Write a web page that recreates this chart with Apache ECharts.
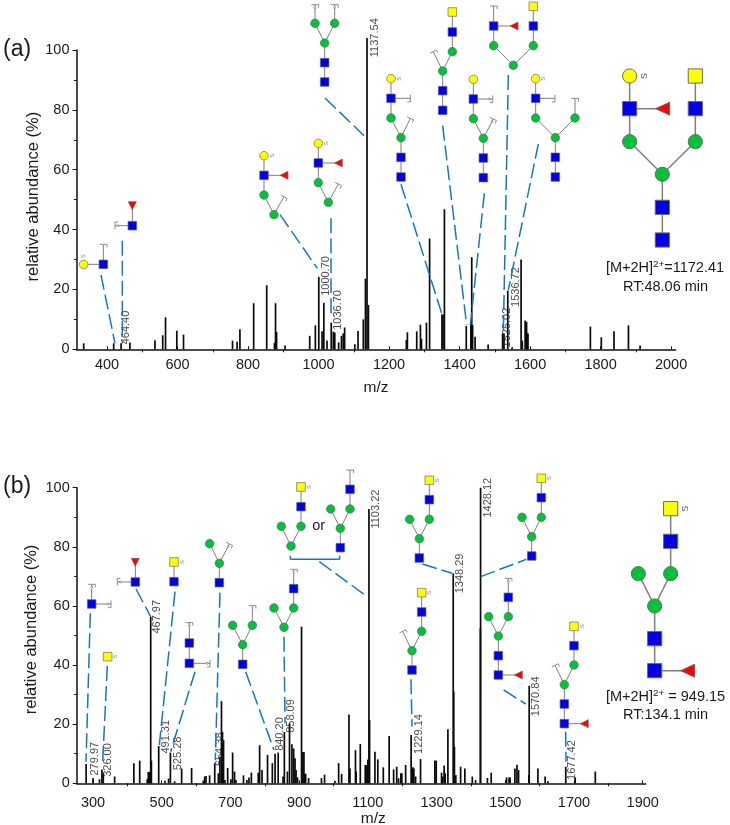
<!DOCTYPE html>
<html><head><meta charset="utf-8">
<script src="https://cdn.jsdelivr.net/npm/echarts@6/dist/echarts.min.js"></script>
<style>html,body{margin:0;padding:0;background:#fff}#c{width:730px;height:825px}</style>
</head><body><div id="c"></div>
<script>
// ---------- chart values ----------
const peaksA = [[334,2],[419,2],[440,2],[465,2.3],[536,3],[558,4.7],[566,10.7],[598,6.2],[617,4.9],[756,2.9],[769,2.5],[777,6.7],[816,15.4],[853,21.4],[875,2.2],[878,15.4],[881,5.8],[905,1.3],[975,4.5],[991,8],[1000.7,24.2],[1010,6],[1015,15.5],[1024,2.9],[1036,8.9],[1042,5.9],[1046,5.6],[1057,2.3],[1065,4.5],[1070,5.3],[1074,7.3],[1103,1.7],[1112,6.1],[1127,10],[1133,23.6],[1137.5,104],[1141.5,14.8],[1249,3.1],[1252,5.7],[1278.5,6],[1289,8.2],[1292,3.5],[1306,8.9],[1315,37],[1350,11.6],[1353,11.6],[1357,46.8],[1419,7.8],[1432,8.1],[1434.5,30.8],[1437,8.1],[1444,4.2],[1481,1.6],[1522,5.3],[1526,5.3],[1536.7,19.6],[1549,0.7],[1574.5,30],[1578,2.9],[1586,9.6],[1590,9.2],[1592,5.3],[1594,5.3],[1771,7.6],[1802,4],[1838,6],[1879,8],[1912,1.3]];
const peaksB = [[280,6.5],[300,1.8],[319,1.4],[326,4.7],[330,3.4],[363,2.3],[419,6.8],[436,7.7],[458,1.4],[461,3.8],[465,3.9],[468,56.4],[470,7.7],[491.3,12.6],[509.5,0.9],[520,1.6],[525.3,10.4],[537.6,0.7],[558,5],[587,5.2],[621,0.9],[625,2.3],[629,2.5],[639.5,2.7],[654.4,6.8],[665,3.4],[669.5,9],[674,27.8],[677,17.4],[680,14.6],[684,1.1],[692,5.2],[701.5,1.4],[706.4,10.4],[712,4],[716,1.1],[738,2.7],[748,1.1],[754,2],[761,3.6],[781,3.6],[785,12.9],[792,4.5],[808,9.6],[822,6.8],[830,10],[839,10.4],[853,2.3],[857,17.4],[866,4],[872,20.3],[879,13.2],[884,11.8],[888,8.5],[891,4.5],[895.5,2],[907,53],[911,10.6],[914,10.6],[917,3.2],[919,3.2],[927.5,1.8],[965,1.8],[974,2.9],[1004,0.9],[1015,6.8],[1023.6,3.2],[1045,23.3],[1048,5],[1064,11.2],[1066,4],[1078,13.3],[1092.4,6.2],[1095,6.2],[1100,8],[1103.2,92.8],[1105,21.4],[1120.6,10.7],[1129,8.1],[1145,5.4],[1162,16],[1175,4.7],[1184,5.6],[1189.4,1.7],[1196,3.4],[1199,3.4],[1210,6.2],[1226,16.3],[1231,5.4],[1234,5],[1239,2.3],[1253.4,8.2],[1295,7.7],[1299,7.7],[1314.5,3.6],[1318,2.3],[1322,6],[1325,3.4],[1333,18.3],[1348.5,71],[1350,31],[1352,12.4],[1356,2.8],[1370,5.6],[1382.4,5],[1404,2.3],[1413.5,1.1],[1427.5,52.4],[1428.1,100],[1448,1.8],[1459,3.6],[1503.7,2],[1511,2],[1514,2],[1528,5],[1534,6.3],[1538.6,4.5],[1568.7,2.8],[1569.6,33],[1595,5],[1616,2.3],[1624,0.7],[1676,5.6],[1703.5,2],[1762,4]];
const labelledA = [[464.40,2.3],[1000.70,24.2],[1036.70,8.9],[1137.54,104],[1525.02,5.3],[1536.72,19.6]];
const labelledB = [[279.97,6.5],[326.00,4.7],[467.97,56.4],[491.31,12.6],[525.28,10.4],[654.38,6.8],[840.20,10],[858.09,17.4],[1103.22,92.8],[1229.14,16.3],[1348.29,71],[1428.12,100],[1570.84,33],[1677.42,5.6]];
const xMajorA = [400,600,800,1000,1200,1400,1600,1800,2000];
const xMinorA = [500,700,900,1100,1300,1500,1700,1900];
const xMajorB = [300,500,700,900,1100,1300,1500,1700,1900];
const xMinorB = [400,600,800,1000,1200,1400,1600,1800];
const yTicks = [0,20,40,60,80,100];

// ---------- layout (pixels) ----------
const offsetsA = [[-3.7,-14.9],[7.3,-0.9],[6.9,-12.7],[8,-0.3],[3.7,-5.9],[8,-3.6]];
const offsetsB = [[8.6,-5.4],[6.4,-9.4],[6.6,0.2],[7.3,-9.3],[7.3,0.8],[5.2,-13.9],[1.4,-19.7],[6.3,-15.9],[7,0.1],[7.1,-1.1],[7.1,0],[7.4,10],[6.4,10.6],[5.7,-6.7]];
const FONT = '"Liberation Sans", Arial, sans-serif';
const INK = '#1a1a1a';
// crop frames the sketches were measured in: 3 units = 1 px
const Q = {a1:[0,0],a2:[365,0],b1:[0,440],b2:[365,440]};
// Y yellow circle, X yellow square, B blue square, G green circle,
// L red triangle pointing left, D red triangle pointing down,
// C cleavage cap, O cleavage cap with dot. [type, x, y, parentIndex, tag]
const glycans = [
 {q:'a1',n:[['B',310,793],['Y',251,793,0,'u'],['C',310,733,0]]},
 {q:'a1',n:[['B',397,677],['D',397,617,0],['O',345,677,0]]},
 {q:'a1',n:[['Y',792,467,-1,'r'],['B',792,526,0],['L',852,526,1],['G',792,585,1],['G',822,644,3],['C',852,590,4]]},
 {q:'a1',n:[['Y',955,430,-1,'r'],['B',955,489,0],['L',1015,489,1],['G',955,548,1],['G',985,607,3],['C',1015,552,4]]},
 {q:'a1',n:[['B',974,246],['B',974,188,0],['G',974,129,1],['G',945,70,2],['G',1004,70,2],['O',945,14,3],['O',1004,14,4]]},
 {q:'a2',n:[['B',108,531],['B',108,472,0],['G',108,413,1],['G',78,354,2],['C',136,355,2],['B',78,295,3],['C',136,295,5],['Y',78,236,5,'r']]},
 {q:'a2',n:[['B',233,331],['B',233,272,0],['G',233,213,1],['C',205,155,2],['G',262,155,2],['B',262,96,4],['X',262,36,5]]},
 {q:'a2',n:[['G',445,196],['G',386,137,0],['G',505,137,0],['B',386,78,1],['B',505,78,2],['L',447,78,3],['C',386,18,3],['X',505,19,4]]},
 {q:'a2',n:[['B',355,533],['B',355,474,0],['G',355,415,1],['G',325,356,2],['O',385,357,2],['B',325,297,3],['O',383,297,5],['Y',325,238,5]]},
 {q:'a2',n:[['B',571,531],['B',571,472,0],['G',571,413,1],['G',512,354,2],['G',630,354,2],['C',630,295,4],['B',512,295,3],['C',570,295,6],['Y',512,236,6,'r']]},
 {q:'a2',big:1,n:[['B',892,720],['B',892,622,0],['G',892,523,1],['G',794,425,2],['G',991,425,2],['B',794,326,3],['B',991,326,4],['L',893,326,5],['Y',794,228,5,'S'],['X',991,228,6]]},
 {q:'b1',n:[['B',275,492],['O',275,433,0],['O',333,492,0]]},
 {q:'b1',n:[['X',323,650,-1,'r']]},
 {q:'b1',n:[['B',406,426],['D',406,367,0],['O',352,426,0]]},
 {q:'b1',n:[['B',522,425],['X',522,366,0,'r']]},
 {q:'b1',n:[['B',568,670],['B',568,609,0],['O',568,548,1],['O',630,670,0]]},
 {q:'b1',n:[['B',658,428],['G',658,370,0],['G',629,311,1],['O',688,312,1]]},
 {q:'b1',n:[['B',728,673],['G',728,614,0],['G',698,556,1],['G',757,556,1],['C',757,497,3]]},
 {q:'b1',n:[['G',852,562],['G',822,504,0],['G',881,504,0],['B',881,446,2],['O',881,388,3]]},
 {q:'b1',n:[['G',873,318],['G',844,259,0],['G',903,259,0],['B',903,200,2],['X',903,141,3,'r']]},
 {q:'b1',n:[['B',1021,323],['G',1021,265,0],['G',992,207,1],['G',1050,207,1],['B',1050,148,3],['C',1050,90,4]]},
 {q:'b2',n:[['B',163,354],['G',163,296,0],['G',134,238,1],['G',193,238,1],['B',193,179,3],['X',193,121,4,'r']]},
 {q:'b2',n:[['B',500,348],['G',500,290,0],['G',471,232,1],['G',529,232,1],['B',529,173,3],['X',529,115,4,'r']]},
 {q:'b2',n:[['B',141,690],['G',141,632,0],['C',113,574,1],['G',170,574,1],['B',170,516,3],['X',170,458,4,'r']]},
 {q:'b2',n:[['B',400,705],['L',460,705,0],['B',400,647,0],['G',400,588,2],['G',371,530,3],['G',430,530,3],['B',430,472,5],['O',430,415,6]]},
 {q:'b2',n:[['B',598,851],['L',658,851,0],['B',598,792,0],['G',598,734,2],['C',570,676,3],['G',627,675,3],['B',627,617,5],['X',627,559,6,'r']]},
 {q:'b2',big:1,n:[['B',869,692],['L',968,692,0],['B',869,596,0],['G',869,498,2],['G',820,401,3],['G',917,401,3],['B',917,304,5],['X',917,206,6,'S']]}
];
// dashed leaders: [frame, x1, y1, x2, y2]
const leaders = [
 ['a1',303,825,345,1030],['a1',367,722,367,1030],['a1',840,644,952,805],['a1',993,655,993,950],['a1',975,294,1092,407],
 ['a2',108,553,230,940],['a2',233,377,305,975],['a2',358,580,316,975],['a2',430,225,415,1000],['a2',520,432,430,870],
 ['b1',271,520,258,965],['b1',322,678,308,965],['b1',408,447,452,530],['b1',525,455,478,915],['b1',585,695,512,935],['b1',660,458,646,960],['b1',737,695,822,930],['b1',852,590,855,850],['b1',958,365,1095,465],
 ['b2',172,372,262,400],['b2',347,410,484,358],['b2',138,718,141,860],['b2',416,750,482,792],['b2',602,875,603,965]
];

const chart = echarts.init(document.getElementById('c'), null, {renderer:'canvas'});
const fmt2 = v => v.toFixed(2);
const gfx = [];
const LINK = '#7f7f7f', EDGE = '#6a6a6a';
function pt(q,x,y){return [Q[q][0]+x/3, Q[q][1]+y/3];}
function seg(a,b,w,c,z){gfx.push({type:'line',shape:{x1:a[0],y1:a[1],x2:b[0],y2:b[1]},style:{stroke:c,lineWidth:w},z:z,silent:true});}
function drawGlycan(g){
  const big=!!g.big, s=big?14.2:8.6, r=big?7.1:4.3, w=big?1.5:1, P=g.n.map(n=>pt(g.q,n[1],n[2]));
  g.n.forEach((n,i)=>{
    const par=n[3];
    if(par!==undefined&&par>=0) seg(P[par],P[i],w,LINK,20);
    if(n[0]==='C'||n[0]==='O'){
      const a=P[par],b=P[i],dx=b[0]-a[0],dy=b[1]-a[1],L=Math.hypot(dx,dy),ux=dx/L,uy=dy/L,nx=-uy,ny=ux,h=3.6;
      seg([b[0]-nx*h,b[1]-ny*h],[b[0]+nx*h,b[1]+ny*h],1,'#8a8a8a',20);
      seg([b[0]+nx*h,b[1]+ny*h],[b[0]+nx*h-ux*3,b[1]+ny*h-uy*3],1,'#8a8a8a',20);
      if(n[0]==='O') gfx.push({type:'circle',shape:{cx:b[0]-ux*3,cy:b[1]-uy*3,r:1},style:{fill:'#fff',stroke:'#777',lineWidth:.7},z:21,silent:true});
    }
  });
  g.n.forEach((n,i)=>{
    const [x,y]=P[i],t=n[0],lw=big?1:.7;
    if(t==='B'||t==='X') gfx.push({type:'rect',shape:{x:x-s/2,y:y-s/2,width:s,height:s},style:{fill:t==='B'?'#0000e6':'#ffff00',stroke:EDGE,lineWidth:lw},z:22,silent:true});
    if(t==='G'||t==='Y') gfx.push({type:'circle',shape:{cx:x,cy:y,r:r},style:{fill:t==='G'?'#00c13a':'#ffff00',stroke:EDGE,lineWidth:lw},z:22,silent:true});
    if(t==='L'){const a=big?7:4,b=big?6.5:4;gfx.push({type:'polygon',shape:{points:[[x-a,y],[x+a,y-b],[x+a,y+b]]},style:{fill:'#ff0000',stroke:EDGE,lineWidth:lw},z:22,silent:true});}
    if(t==='D'){gfx.push({type:'polygon',shape:{points:[[x,y+4],[x-4,y-4],[x+4,y-4]]},style:{fill:'#ff0000',stroke:EDGE,lineWidth:lw},z:22,silent:true});}
    const tag=n[4];
    if(tag){
      const big2=tag==='S';
      const tx=tag==='u'?x:x+(big2?14.5:8), ty=tag==='u'?y-8:y;
      gfx.push({type:'text',x:tx,y:ty,rotation:Math.PI/2,style:{text:'S',fill:big2?'#555':'#8a8a8a',font:(big2?9:6)+'px '+FONT,align:'center',verticalAlign:'middle'},z:22,silent:true});
    }
  });
}
glycans.forEach(drawGlycan);
leaders.forEach(l=>{
  const a=pt(l[0],l[1],l[2]),b=pt(l[0],l[3],l[4]);
  gfx.push({type:'line',shape:{x1:a[0],y1:a[1],x2:b[0],y2:b[1]},style:{stroke:'#1676c4',lineWidth:1.5,lineDash:[15,5]},z:15,silent:true});
});
// bracket under the "or" pair
['871,347,871,358','871,358,1019,358','1019,358,1019,347'].forEach(s=>{
  const v=s.split(',').map(Number);seg(pt('b1',v[0],v[1]),pt('b1',v[2],v[3]),1.5,'#1676c4',15);
});
function txt(x,y,t,size,align){gfx.push({type:'text',x:x,y:y,style:{text:t,fill:INK,font:size+'px '+FONT,align:align||'center',verticalAlign:'middle'},z:25,silent:true});}
txt(3,50,'(a)',23,'left');
txt(3,487,'(b)',23,'left');
{const c=pt('b1',956,259);txt(c[0],c[1],'or',14.5);}
function ionText(xL,y,before,after,size){
  gfx.push({type:'text',x:xL,y:y,style:{rich:{a:{font:size+'px '+FONT,fill:INK},s:{font:(size*0.68)+'px '+FONT,fill:INK,verticalAlign:'top',padding:[0,0,7,0]}},text:'{a|'+before+'}{s|2+}{a|'+after+'}',align:'center',verticalAlign:'middle'},z:25,silent:true});
}
ionText(665,268,'[M+2H]','=1172.41',14.5);
txt(665.5,287,'RT:48.06 min',14.5);
ionText(665.5,696.5,'[M+2H]',' = 949.15',14.5);
txt(665.5,714.5,'RT:134.1 min',14.5);

const axisLbl={color:INK,fontFamily:FONT,fontSize:14.5};
function xAxes(grid,min,max,major,minor,pad,margin,gap){
  return [{
    type:'value',gridIndex:grid,min:min,max:max,splitLine:{show:false},
    name:'m/z',nameLocation:'middle',nameGap:gap,nameMoveOverlap:false,nameTextStyle:{color:INK,fontFamily:FONT,fontSize:15.5,padding:pad},
    axisLine:{onZero:false,lineStyle:{color:'#111',width:1.5}},
    axisTick:{inside:true,length:3,customValues:major,lineStyle:{color:'#111',width:1}},
    axisLabel:Object.assign({margin:margin,customValues:major,formatter:v=>String(v)},axisLbl)
  },{
    type:'value',gridIndex:grid,min:min,max:max,splitLine:{show:false},position:'bottom',
    axisLine:{show:false,onZero:false},axisLabel:{show:false},
    axisTick:{length:3,customValues:minor,lineStyle:{color:'#111',width:1}}
  }];
}
function yAxis(grid,gap,pad){
  return {type:'value',gridIndex:grid,min:0,max:100,interval:20,splitLine:{show:false},
    name:'relative abundance (%)',nameLocation:'middle',nameGap:gap,nameRotate:90,nameMoveOverlap:false,
    nameTextStyle:{color:INK,fontFamily:FONT,fontSize:16.5,padding:pad},
    axisLine:{show:true,onZero:false,lineStyle:{color:'#111',width:1.5}},
    axisTick:{show:true,length:4,lineStyle:{color:'#111',width:1}},
    minorTick:{show:true,splitNumber:2,length:2.5,lineStyle:{color:'#111',width:1}},
    axisLabel:Object.assign({margin:7,customValues:yTicks},axisLbl)};
}
function bars(name,data,xi,yi){
  return {name:name,type:'bar',xAxisIndex:xi,yAxisIndex:yi,data:data,barWidth:1.7,clip:false,
    itemStyle:{color:'#0a0a0a'},silent:true,animation:false,z:3};
}
function tags(labelled,offs,xi,yi){
  return {type:'scatter',xAxisIndex:xi,yAxisIndex:yi,symbol:'circle',symbolSize:0,clip:false,silent:true,z:6,animation:false,
    // label offsets run in the rotated text frame: screen (sx, sy) -> (-sy, sx)
    data:labelled.map((d,i)=>({value:d,label:{show:true,position:'inside',rotate:90,offset:[-offs[i][1],offs[i][0]],align:'center',verticalAlign:'middle',
      formatter:fmt2(d[0]),color:INK,fontFamily:FONT,fontSize:11}}))};
}
chart.setOption({
  animation:false,backgroundColor:'#fff',
  grid:[{left:76.5,top:50,width:599.2,height:299.3,outerBoundsMode:'none'},{left:76.7,top:487.7,width:569,height:295.6,outerBoundsMode:'none'}],
  xAxis:[...xAxes(0,313.5,2013,xMajorA,xMinorA,[0,0,0,0],8,30),...xAxes(1,252.6,1908.7,xMajorB,xMinorB,[0,0,0,24],12,27)],
  yAxis:[yAxis(0,35,[0,0,0,6]),yAxis(1,37,[0,0,0,12])],
  series:[bars('a',peaksA,0,0),tags(labelledA,offsetsA,0,0),bars('b',peaksB,2,1),tags(labelledB,offsetsB,2,1)],
  graphic:{elements:gfx}
});
</script></body></html>
